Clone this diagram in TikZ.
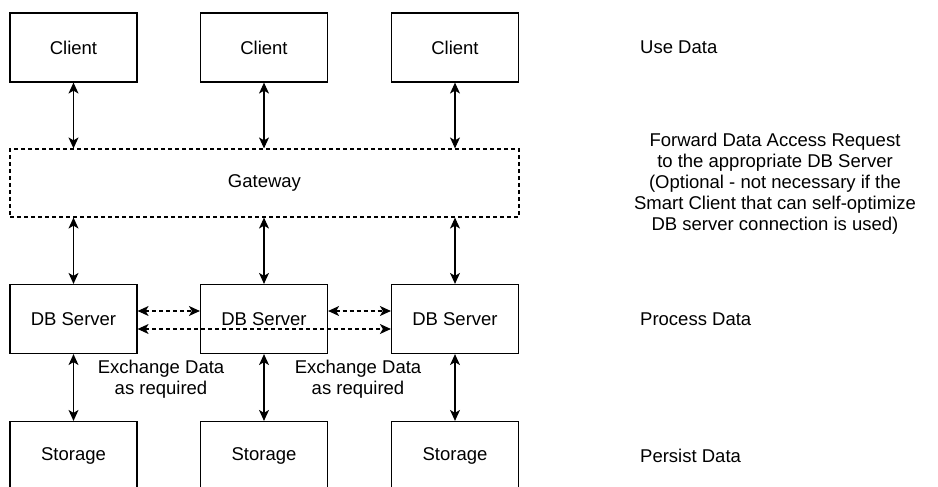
\documentclass[tikz,border=0pt]{standalone}
\usepackage{fontspec}
\setmainfont{Liberation Sans}
\usetikzlibrary{arrows.meta}
\begin{document}
\begin{tikzpicture}[x=1pt,y=-1pt,
  box/.style={draw,line width=1.2pt,minimum width=127pt,minimum height=69pt,inner sep=0pt,font=\fontsize{18.5}{21}\selectfont},
  lbl/.style={font=\fontsize{18.5}{21}\selectfont,inner sep=0pt},
  conn/.style={line width=1.2pt,{Stealth[length=11pt,width=10pt,inset=3pt]}-{Stealth[length=11pt,width=10pt,inset=3pt]}},
  dconn/.style={conn,dash pattern=on 4pt off 3pt}]
\useasboundingbox (0,0) rectangle (938,487);
\fill[white] (0,0) rectangle (938,487);
% clients
\node[box] (c1) at (73.5,47.5) {Client};
\node[box] (c2) at (264,47.5) {Client};
\node[box] (c3) at (455,47.5) {Client};
% gateway
\node[box,dash pattern=on 4pt off 3pt,minimum width=509pt,minimum height=68pt] (g) at (264.5,183) {Gateway};
% db servers
\node[box] (d1) at (73.5,319) {DB Server};
\node[box] (d2) at (264,319) {DB Server};
\node[box] (d3) at (455,319) {DB Server};
% storage
\node[box] (s1) at (73.5,456) {Storage};
\node[box] (s2) at (264,456) {Storage};
\node[box] (s3) at (455,456) {Storage};
% vertical connectors
\foreach \i in {1,2,3}{
  \draw[conn] (c\i.south) -- (g.north -| c\i.south);
  \draw[conn] (g.south -| d\i.north) -- (d\i.north);
  \draw[conn] (d\i.south) -- (s\i.north);
}
% exchange connectors
\draw[dconn] ([yshift=8pt]d1.east) -- ([yshift=8pt]d2.west);
\draw[dconn] ([yshift=8pt]d2.east) -- ([yshift=8pt]d3.west);
\draw[dconn] ([yshift=-10pt]d1.east) -- ([yshift=-10pt]d3.west);
% exchange labels
\node[lbl,align=center] (x1) at (161,379) {Exchange Data\\as required};
\node[lbl,align=center] (x2) at (358,379) {Exchange Data\\as required};
% right labels
\node[lbl,anchor=west] (u) at (640,47.5) {Use Data};
\node[lbl,align=center] (f) at (775,184) {Forward Data Access Request\\to the appropriate DB Server\\(Optional - not necessary if the\\Smart Client that can self-optimize\\DB server connection is used)};
\node[lbl,anchor=west] (p) at (640,319) {Process Data};
\node[lbl,anchor=west] (q) at (640,456) {Persist Data};
\end{tikzpicture}
\end{document}
